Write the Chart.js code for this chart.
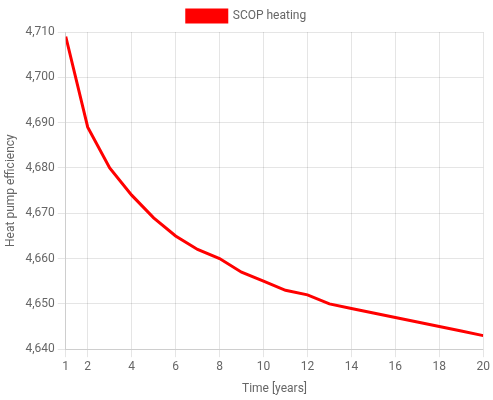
<!DOCTYPE html>
<html lang="en">
<head>
  <meta charset="UTF-8">
  <title>SCOP heating</title>
  <script src="https://cdn.jsdelivr.net/npm/chart.js"></script>
  <style>
    body { margin: 0; }
    #wrap { width: 493px; height: 400px; }
  </style>
</head>
<body>
  <div id="wrap"><canvas id="scopChart"></canvas></div>
  <script>
    // Data
    const years = [1, 2, 3, 4, 5, 6, 7, 8, 9, 10, 11, 12, 13, 14, 15, 16, 17, 18, 19, 20];
    const scop = [4709, 4689, 4680, 4674, 4669, 4665, 4662, 4660, 4657, 4655,
                  4653, 4652, 4650, 4649, 4648, 4647, 4646, 4645, 4644, 4643];

    Chart.defaults.font.family = 'Roboto, "Liberation Sans", sans-serif';
    Chart.defaults.color = '#666';

    const ctx = document.getElementById('scopChart').getContext('2d');
    new Chart(ctx, {
      type: 'line',
      data: {
        datasets: [{
          label: 'SCOP heating',
          data: years.map((x, i) => ({ x: x, y: scop[i] })),
          borderColor: 'rgb(255, 0, 0)',
          backgroundColor: 'rgb(255, 0, 0)',
          borderWidth: 3,
          pointRadius: 0,
          tension: 0,
          fill: false
        }]
      },
      options: {
        responsive: true,
        maintainAspectRatio: false,
        animation: false,
        plugins: {
          legend: { labels: { boxWidth: 40 } }
        },
        scales: {
          x: {
            type: 'linear',
            min: 1,
            max: 20,
            ticks: { stepSize: 2 },
            title: { display: true, text: 'Time [years]' }
          },
          y: {
            min: 4640,
            max: 4710,
            ticks: { stepSize: 10 },
            title: { display: true, text: 'Heat pump efficiency' }
          }
        }
      }
    });
  </script>
</body>
</html>
